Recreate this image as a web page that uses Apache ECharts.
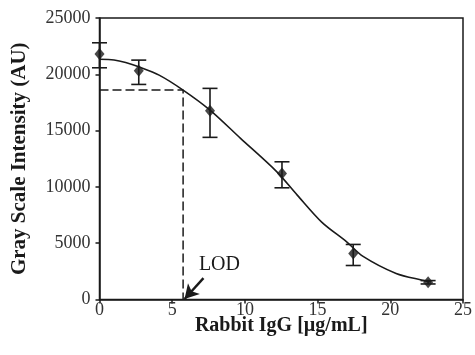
<!DOCTYPE html>
<html>
<head>
<meta charset="utf-8">
<script src="https://cdn.jsdelivr.net/npm/echarts@6/dist/echarts.min.js"></script>
<style>
html,body{margin:0;padding:0;background:#fff;}
#c{width:475px;height:355px;}
</style>
</head>
<body>
<div id="c"></div>
<script>
// measured points (mean) with error bar limits
const ptX = [0, 2.7, 7.6, 12.55, 17.45, 22.6];
const ptY = [21800, 20310, 16760, 11200, 4090, 1530];
const errHigh = [22800, 21260, 18750, 12230, 4890, 1680];
const errLow = [20580, 19100, 14400, 9920, 3020, 1380];

// fitted curve
const fitX = [0, 1, 1.8, 2.7, 4.1, 5.75, 7.6, 9.7, 12.2, 13.6, 15.3, 17.0, 18.1, 20.4, 22.2, 22.8];
const fitY = [21330, 21270, 21050, 20670, 19930, 18600, 16820, 14310, 11340, 9270, 6850, 5120, 3850, 2310, 1715, 1560];

// limit of detection
const lodX = 5.75;
const lodY = 18600;
const lodArrowFrom = [7.15, 1900];
const lodArrowTo = [5.85, 40];
const lodLabelAt = [8.25, 3050];
const lodText = 'LOD';

const xTicks = { min: 0, max: 25, interval: 5 };
const yTicks = { min: 0, max: 25000, interval: 5000 };
const xTitle = 'Rabbit IgG [µg/mL]';
const yTitle = 'Gray Scale Intensity (AU)';

const ink = '#1a1a1a';
const serif = '"Liberation Serif","Times New Roman",serif';

const chart = echarts.init(document.getElementById('c'), null, {renderer: 'canvas'});

const errData = ptX.map((x, i) => [x, errLow[i], errHigh[i]]);

chart.setOption({
  animation: false,
  backgroundColor: '#fff',
  grid: { left: 99.5, right: 6.5, top: 18, bottom: 55.5, show: true, borderColor: ink, borderWidth: 1.5, backgroundColor: 'transparent' },
  xAxis: {
    type: 'value', min: xTicks.min, max: xTicks.max, interval: xTicks.interval,
    name: xTitle, nameLocation: 'middle', nameGap: 16, nameMoveOverlap: false,
    nameTextStyle: { fontFamily: serif, fontWeight: 'bold', fontSize: 20, color: ink },
    axisLine: { show: true, onZero: false, lineStyle: { color: ink, width: 1.5 } },
    axisTick: { show: true, inside: false, length: 4, lineStyle: { color: ink, width: 1.5 } },
    axisLabel: { fontFamily: serif, fontSize: 18, color: '#333', margin: 2, formatter: v => String(v) },
    splitLine: { show: false }
  },
  yAxis: {
    type: 'value', min: yTicks.min, max: yTicks.max, interval: yTicks.interval,
    name: yTitle, nameLocation: 'middle', nameGap: 69, nameMoveOverlap: false,
    nameTextStyle: { fontFamily: serif, fontWeight: 'bold', fontSize: 21, color: ink },
    axisLine: { show: true, onZero: false, lineStyle: { color: ink, width: 1.5 } },
    axisTick: { show: true, inside: false, length: 4, lineStyle: { color: ink, width: 1.5 } },
    axisLabel: { fontFamily: serif, fontSize: 18, color: '#333', margin: 9, formatter: v => String(v) },
    splitLine: { show: false }
  },
  series: [
    {
      type: 'line', name: 'fit', data: fitX.map((x, i) => [x, fitY[i]]),
      smooth: 0.3, showSymbol: false, symbol: 'none',
      lineStyle: { color: ink, width: 1.6 }, z: 3
    },
    {
      type: 'line', name: 'lod',
      data: [[xTicks.min, lodY], [lodX, lodY], [lodX, yTicks.min]],
      showSymbol: false, symbol: 'none',
      lineStyle: { color: ink, width: 1.5, type: [9, 4] }, z: 2,
      markLine: {
        silent: true, symbol: ['none', 'arrow'], symbolSize: [12, 14],
        lineStyle: { color: ink, width: 2.4, type: 'solid' },
        label: { show: false },
        data: [[{ coord: lodArrowFrom }, { coord: lodArrowTo }]]
      },
      markPoint: {
        silent: true, symbol: 'circle', symbolSize: 0,
        label: { show: true, formatter: lodText, fontFamily: serif, fontSize: 20, color: ink, position: 'inside' },
        data: [{ coord: lodLabelAt }]
      }
    },
    {
      type: 'custom', name: 'err', data: errData, z: 4,
      renderItem: function (params, api) {
        const x = api.value(0);
        const lo = api.coord([x, api.value(1)]);
        const hi = api.coord([x, api.value(2)]);
        const w = 7.5;
        const st = { stroke: ink, lineWidth: 1.6 };
        return {
          type: 'group',
          children: [
            { type: 'line', shape: { x1: lo[0], y1: lo[1], x2: hi[0], y2: hi[1] }, style: st },
            { type: 'line', shape: { x1: lo[0] - w, y1: lo[1], x2: lo[0] + w, y2: lo[1] }, style: st },
            { type: 'line', shape: { x1: hi[0] - w, y1: hi[1], x2: hi[0] + w, y2: hi[1] }, style: st }
          ]
        };
      }
    },
    {
      type: 'scatter', name: 'mean', data: ptX.map((x, i) => [x, ptY[i]]),
      symbol: 'diamond', symbolSize: [10, 12],
      itemStyle: { color: ink }, z: 5
    }
  ]
});
</script>
</body>
</html>
